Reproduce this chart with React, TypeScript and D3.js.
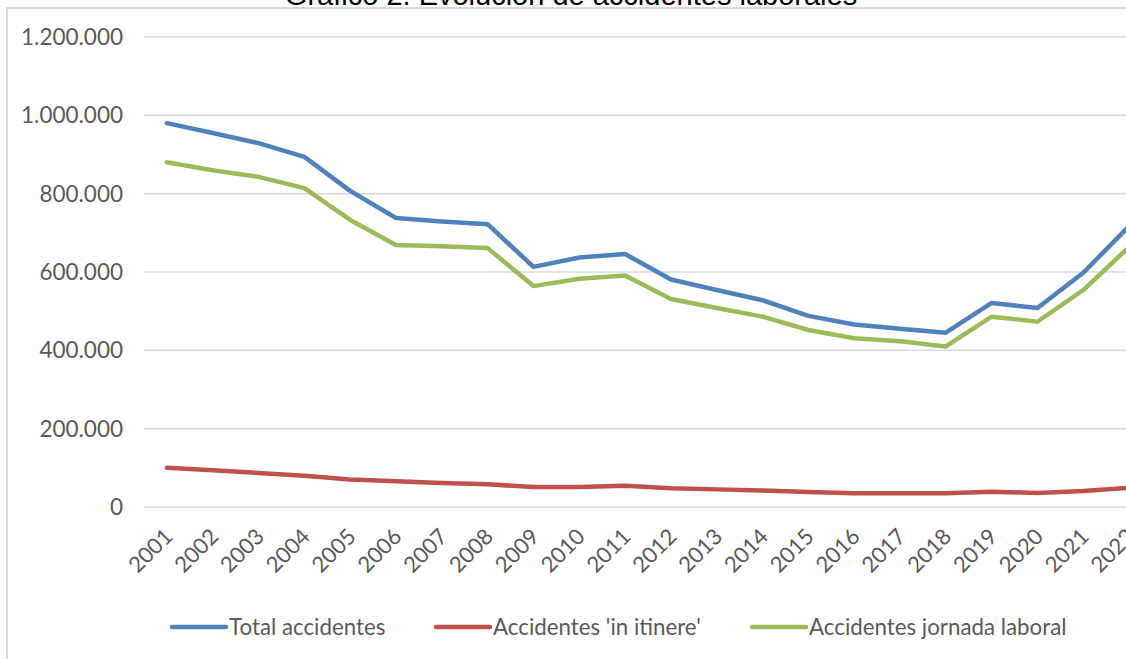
import React, { useEffect, useRef } from "react";
import * as d3 from "d3";

const years = ["2001","2002","2003","2004","2005","2006","2007","2008","2009","2010","2011","2012","2013","2014","2015","2016","2017","2018","2019","2020","2021","2022"];
const totalAccidentes = [980000,955000,929000,894000,807000,738000,729000,722000,613000,637000,646000,581000,554000,528000,488000,466000,455000,445000,521000,508000,598000,717000];
const inItinere = [100000,94000,87000,80000,70000,66000,61000,58000,51000,51000,54000,48000,45000,42000,38000,35000,35000,35000,39000,36000,41000,49000];
const jornadaLaboral = [880000,860000,843000,814000,733000,669000,666000,661000,564000,583000,591000,531000,508000,486000,452000,431000,423000,410000,486000,473000,554000,664000];
const yTicks = [0,200000,400000,600000,800000,1000000,1200000];
const seriesNames = ["Total accidentes","Accidentes 'in itinere'","Accidentes jornada laboral"];
const seriesColors = ["#4F81BD","#C0504D","#9BBB59"];
const title = "Gráfico 2. Evolución de accidentes laborales";

export default function App() {
  const ref = useRef<SVGSVGElement>(null);
  useEffect(() => {
    const svg = d3.select(ref.current);
    svg.selectAll("*").remove();
    const W = 1126, H = 659;
    const font = "Lato, 'Open Sans', sans-serif";
    const fmt = d3.formatLocale({ decimal: ",", thousands: ".", grouping: [3], currency: ["", ""] }).format(",");

    svg.append("rect").attr("x", 0).attr("y", 0).attr("width", W).attr("height", H).attr("fill", "#fff");
    // frame
    svg.append("rect").attr("x", 7).attr("y", 8).attr("width", W + 50).attr("height", H + 50)
      .attr("fill", "none").attr("stroke", "#d9d9d9").attr("stroke-width", 2);
    // title (clipped at top, as in the reference)
    svg.append("text").attr("x", 571).attr("y", 5).attr("text-anchor", "middle")
      .attr("font-family", "Arial, 'Liberation Sans', sans-serif").attr("font-size", 29).attr("fill", "#000")
      .text(title);

    const x = d3.scaleBand<string>().domain(years).range([144, 1152]);
    const y = d3.scaleLinear().domain([0, 1200000]).range([507, 37]);
    const cx = (d: string) => (x(d) as number) + x.bandwidth() / 2;

    // grid
    svg.append("g").selectAll("line").data(yTicks).join("line")
      .attr("x1", 144).attr("x2", 1152)
      .attr("y1", d => y(d)).attr("y2", d => y(d))
      .attr("stroke", "#d9d9d9").attr("stroke-width", 1.5);

    // y labels
    svg.append("g").selectAll("text").data(yTicks).join("text")
      .attr("x", 123).attr("y", d => y(d)).attr("dy", "0.36em")
      .attr("text-anchor", "end").attr("font-family", font).attr("font-size", 22.5).attr("fill", "#595959")
      .text(d => fmt(d));

    // x labels
    svg.append("g").selectAll("text").data(years).join("text")
      .attr("transform", d => `translate(${cx(d) + 7},${538}) rotate(-45)`)
      .attr("text-anchor", "end").attr("font-family", font).attr("font-size", 22).attr("fill", "#595959")
      .text(d => d);

    const all = [totalAccidentes, inItinere, jornadaLaboral];
    const line = d3.line<number>().x((_, i) => cx(years[i])).y(d => y(d));
    all.forEach((s, i) => {
      svg.append("path").attr("d", line(s) as string).attr("fill", "none")
        .attr("stroke", seriesColors[i]).attr("stroke-width", 4.5)
        .attr("stroke-linejoin", "round").attr("stroke-linecap", "round");
    });

    // legend
    const legX = [172, 436, 752];
    const lg = svg.append("g");
    seriesNames.forEach((n, i) => {
      lg.append("line").attr("x1", legX[i]).attr("x2", legX[i] + 54).attr("y1", 627).attr("y2", 627)
        .attr("stroke", seriesColors[i]).attr("stroke-width", 4.5).attr("stroke-linecap", "round");
      lg.append("text").attr("x", legX[i] + 57).attr("y", 627).attr("dy", "0.36em")
        .attr("font-family", font).attr("font-size", 22.3).attr("fill", "#595959").text(n);
    });
  }, []);
  return (
    <svg ref={ref} width={1126} height={659} style={{ position: "absolute", left: 0, top: 0, display: "block" }} />
  );
}
